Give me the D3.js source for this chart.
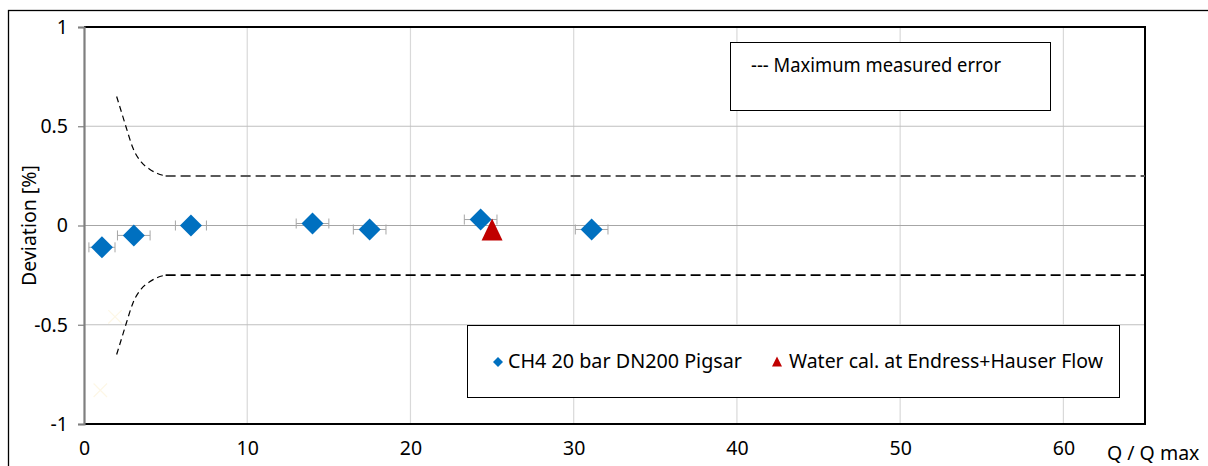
<!DOCTYPE html>
<html>
<head>
<meta charset="utf-8">
<script src="https://cdn.jsdelivr.net/npm/d3@7"></script>
<style>
  html, body { margin: 0; padding: 0; background: #fff; }
  svg { display: block; font-family: "Noto Sans", "Open Sans", sans-serif; }
</style>
</head>
<body>
<svg id="chart" width="1208" height="466"></svg>
<script>
// ---- data ----
const xTicks = [0, 10, 20, 30, 40, 50, 60];
const yTicks = [-1, -0.5, 0, 0.5, 1];
const yTickLabels = ["-1", "-0.5", "0", "0.5", "1"];

// CH4 20 bar DN200 Pigsar
const ch4X   = [1.1, 3.05, 6.55, 14.0, 17.5, 24.3, 31.1];
const ch4Y   = [-0.11, -0.05, 0.0, 0.01, -0.02, 0.03, -0.02];
const ch4Err = [0.8, 1.0, 0.95, 1.0, 1.0, 1.0, 1.0];

// Water cal. at Endress+Hauser Flow
const waterX = [25.0];
const waterY = [-0.02];

// Maximum measured error (curves at low flow, then flat)
const curveX     = [2.0, 2.3, 2.6, 3.0, 3.5, 4.0, 4.5, 5.0];
const curveUpper = [0.65, 0.57, 0.49, 0.39, 0.32, 0.285, 0.262, 0.25];
const curveLower = [-0.65, -0.57, -0.49, -0.39, -0.32, -0.285, -0.262, -0.25];
const flatX      = [5.0, 65];
const flatUpper  = [0.25, 0.25];
const flatLower  = [-0.25, -0.25];

// faint auxiliary markers
const faintX = [1.0, 1.9];
const faintY = [-0.83, -0.46];

const legendTop = ["--- Maximum measured error"];
const legendSeries = ["CH4 20 bar DN200 Pigsar", "Water cal. at Endress+Hauser Flow"];

// ---- layout ----
const svg = d3.select("#chart");
const plot = { left: 84, right: 1145, top: 27, bottom: 424 };
const x = d3.scaleLinear().domain([0, 65]).range([plot.left, plot.right]);
const y = d3.scaleLinear().domain([-1, 1]).range([plot.bottom, plot.top]);
const FS = 19.5;

// outer frame
svg.append("rect").attr("x", 8.5).attr("y", 10.5).attr("width", 1300).attr("height", 500)
  .attr("fill", "none").attr("stroke", "#000").attr("stroke-width", 1.3);

// vertical gridlines
svg.append("g").selectAll("line").data(xTicks.filter(d => d > 0)).join("line")
  .attr("x1", d => x(d)).attr("x2", d => x(d))
  .attr("y1", plot.top).attr("y2", plot.bottom)
  .attr("stroke", "#d9d9d9").attr("stroke-width", 1.2);

// horizontal gridlines
svg.append("g").selectAll("line").data(yTicks.filter(d => d !== 0 && Math.abs(d) !== 1)).join("line")
  .attr("x1", plot.left).attr("x2", plot.right)
  .attr("y1", d => y(d)).attr("y2", d => y(d))
  .attr("stroke", "#bfbfbf").attr("stroke-width", 1.2);

// zero line
svg.append("line").attr("x1", plot.left).attr("x2", plot.right)
  .attr("y1", y(0)).attr("y2", y(0)).attr("stroke", "#a6a6a6").attr("stroke-width", 1.2);

// plot border top/right/bottom
svg.append("path")
  .attr("d", `M${plot.left},${plot.top}H${plot.right}V${plot.bottom}H${plot.left}`)
  .attr("fill", "none").attr("stroke", "#000").attr("stroke-width", 2);

// y axis
const yAxis = d3.axisLeft(y).tickValues(yTicks).tickSize(6).tickPadding(10)
  .tickFormat((d, i) => yTickLabels[i]);
const gy = svg.append("g").attr("transform", `translate(${plot.left},0)`).call(yAxis);
gy.attr("font-size", FS).attr("font-family", "Noto Sans, sans-serif");
gy.select(".domain").attr("stroke", "#7f7f7f").attr("stroke-width", 2.2);
gy.selectAll(".tick line").attr("stroke", "#7f7f7f").attr("stroke-width", 1.2);
gy.selectAll(".tick text").attr("fill", "#000");

// x axis (labels only)
const xAxis = d3.axisBottom(x).tickValues(xTicks).tickSize(0).tickPadding(17).tickFormat(d3.format("d"));
const gx = svg.append("g").attr("transform", `translate(0,${plot.bottom})`).call(xAxis);
gx.attr("font-size", FS).attr("font-family", "Noto Sans, sans-serif");
gx.select(".domain").remove();
gx.selectAll(".tick text").attr("fill", "#000");

// axis titles
svg.append("text").attr("x", 1107).attr("y", 460).attr("font-size", FS).attr("fill", "#000")
  .text("Q / Q max");
svg.append("text").attr("transform", `translate(36,${y(0)}) rotate(-90)`)
  .attr("text-anchor", "middle").attr("font-size", FS).attr("fill", "#000")
  .text("Deviation [%]");

// faint markers
svg.append("g").selectAll("path").data(faintX).join("path")
  .attr("d", d3.symbol(d3.symbolX, 120)())
  .attr("transform", (d, i) => `translate(${x(d)},${y(faintY[i])})`)
  .attr("fill", "none").attr("stroke", "#fdf7e6").attr("stroke-width", 1.2);

// max error lines
const line = d3.line().x(d => x(d[0])).y(d => y(d[1])).curve(d3.curveMonotoneX);
svg.append("path").datum(curveX.map((d, i) => [d, curveUpper[i]])).attr("d", line)
  .attr("fill", "none").attr("stroke", "#000").attr("stroke-width", 1.2).attr("stroke-dasharray", "6,4");
svg.append("path").datum(curveX.map((d, i) => [d, curveLower[i]])).attr("d", line)
  .attr("fill", "none").attr("stroke", "#000").attr("stroke-width", 1.2).attr("stroke-dasharray", "6,4");
svg.append("path").datum(flatX.map((d, i) => [d, flatUpper[i]])).attr("d", line)
  .attr("fill", "none").attr("stroke", "#595959").attr("stroke-width", 2).attr("stroke-dasharray", "10,5");
svg.append("path").datum(flatX.map((d, i) => [d, flatLower[i]])).attr("d", line)
  .attr("fill", "none").attr("stroke", "#000").attr("stroke-width", 1.8).attr("stroke-dasharray", "10,5");

// error bars
const eb = svg.append("g").attr("stroke", "#a6a6a6").attr("stroke-width", 1);
ch4X.forEach((d, i) => {
  const cy = y(ch4Y[i]);
  eb.append("line").attr("x1", x(d - ch4Err[i])).attr("x2", x(d + ch4Err[i])).attr("y1", cy).attr("y2", cy);
  [d - ch4Err[i], d + ch4Err[i]].forEach(e => {
    eb.append("line").attr("x1", x(e)).attr("x2", x(e)).attr("y1", cy - 5).attr("y2", cy + 5);
  });
});

// diamonds
const diamond = "M0,-11L11,0L0,11L-11,0Z";
svg.append("g").selectAll("path").data(ch4X).join("path")
  .attr("d", diamond)
  .attr("transform", (d, i) => `translate(${x(d)},${y(ch4Y[i])})`)
  .attr("fill", "#0070c0");

// triangle
svg.append("g").selectAll("path").data(waterX).join("path")
  .attr("d", "M0,-11L10.5,11L-10.5,11Z")
  .attr("transform", (d, i) => `translate(${x(d)},${y(waterY[i])})`)
  .attr("fill", "#c00000");

// legend 1
svg.append("rect").attr("x", 730.5).attr("y", 42.5).attr("width", 320).attr("height", 68)
  .attr("fill", "#fff").attr("stroke", "#000").attr("stroke-width", 1);
svg.append("text").attr("x", 751).attr("y", 72).attr("font-size", 19).attr("fill", "#000")
  .attr("textLength", 250).attr("lengthAdjust", "spacingAndGlyphs")
  .text(legendTop[0]);

// legend 2
svg.append("rect").attr("x", 467.5).attr("y", 325.5).attr("width", 652).attr("height", 72)
  .attr("fill", "#fff").attr("stroke", "#000").attr("stroke-width", 1);
svg.append("path").attr("d", "M0,-5L5,0L0,5L-5,0Z").attr("transform", "translate(498,362)").attr("fill", "#0070c0");
svg.append("text").attr("x", 508).attr("y", 368).attr("font-size", 20).attr("fill", "#000")
  .attr("textLength", 234).attr("lengthAdjust", "spacingAndGlyphs")
  .text(legendSeries[0]);
svg.append("path").attr("d", "M0,-5.5L5,4.5L-5,4.5Z").attr("transform", "translate(777,362)").attr("fill", "#c00000");
svg.append("text").attr("x", 789).attr("y", 368).attr("font-size", 20).attr("fill", "#000")
  .attr("textLength", 314).attr("lengthAdjust", "spacingAndGlyphs")
  .text(legendSeries[1]);
</script>
</body>
</html>
